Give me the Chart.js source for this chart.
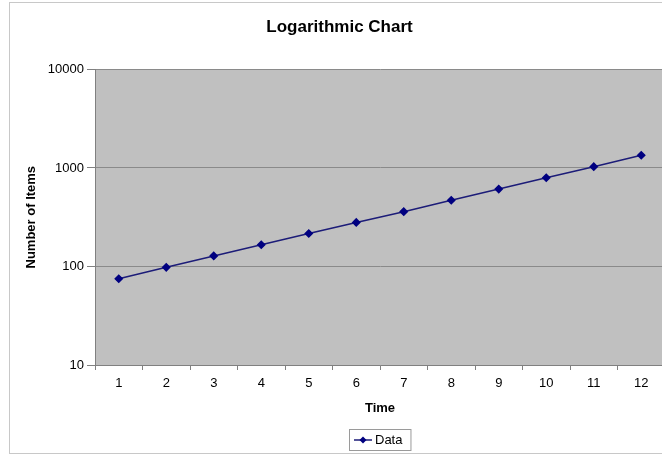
<!DOCTYPE html>
<html>
<head>
<meta charset="utf-8">
<script src="https://cdn.jsdelivr.net/npm/chart.js@4.4.1/dist/chart.umd.min.js"></script>
<style>
	html, body { margin: 0; padding: 0; background: #fff; overflow: hidden; }
	#wrap { position: relative; width: 684px; height: 455px; }
</style>
</head>
<body>
<div id="wrap"><canvas id="myChart"></canvas></div>
<script>
// values
var timeLabels = ['1', '2', '3', '4', '5', '6', '7', '8', '9', '10', '11', '12'];
var itemCounts = [75, 98, 128, 166, 216, 280, 360, 470, 610, 795, 1030, 1345];
var yTickValues = [10, 100, 1000, 10000];

var FONT = "'Liberation Sans', Arial, sans-serif";

// grey plot area + light frame round the whole chart
var backdrop = {
	id: 'backdrop',
	beforeDraw: function(chart) {
		var ctx = chart.ctx, a = chart.chartArea;
		ctx.save();
		ctx.strokeStyle = '#c8c8c8';
		ctx.lineWidth = 1;
		ctx.strokeRect(9.5, 2.5, chart.width - 3, 451);
		ctx.fillStyle = '#c0c0c0';
		ctx.fillRect(a.left, a.top, a.right - a.left, a.bottom - a.top);
		ctx.restore();
	}
};

// excel style legend: boxed, line with a diamond marker
var boxLegend = {
	id: 'boxLegend',
	afterDraw: function(chart) {
		var ctx = chart.ctx;
		var ds = chart.data.datasets[0];
		ctx.save();
		ctx.font = '13px ' + FONT;
		var tw = ctx.measureText(ds.label).width;
		var x0 = 349, y0 = 429, h = 21;
		var w = 26 + tw + 8;
		ctx.fillStyle = '#fff';
		ctx.fillRect(x0 + 0.5, y0 + 0.5, w, h);
		ctx.strokeStyle = '#9a9a9a';
		ctx.strokeRect(x0 + 0.5, y0 + 0.5, w, h);
		var cy = y0 + h / 2 + 0.5;
		ctx.strokeStyle = ds.borderColor;
		ctx.lineWidth = 1.5;
		ctx.beginPath();
		ctx.moveTo(x0 + 5, cy);
		ctx.lineTo(x0 + 23, cy);
		ctx.stroke();
		ctx.fillStyle = ds.pointBackgroundColor;
		ctx.beginPath();
		ctx.moveTo(x0 + 14, cy - 3.5);
		ctx.lineTo(x0 + 17.5, cy);
		ctx.lineTo(x0 + 14, cy + 3.5);
		ctx.lineTo(x0 + 10.5, cy);
		ctx.closePath();
		ctx.fill();
		ctx.fillStyle = '#000';
		ctx.textBaseline = 'middle';
		ctx.fillText(ds.label, x0 + 26, cy);
		ctx.restore();
	}
};

var ctx = document.getElementById('myChart').getContext('2d');
var chart = new Chart(ctx, {
	type: 'line',
	data: {
		labels: timeLabels,
		datasets: [{
			label: 'Data',
			data: itemCounts,
			borderColor: '#1c1c78',
			borderWidth: 1.5,
			pointStyle: 'rectRot',
			pointRadius: 3.5,
			pointBackgroundColor: '#000080',
			pointBorderColor: '#000080',
			tension: 0
		}]
	},
	options: {
		responsive: true,
		maintainAspectRatio: false,
		animation: false,
		layout: { padding: { left: 14, right: 19, top: 0, bottom: 0 } },
		plugins: {
			legend: { display: false },
			tooltip: { enabled: false },
			title: {
				display: true,
				text: 'Logarithmic Chart',
				color: '#000',
				font: { family: FONT, size: 17, weight: 'bold' },
				padding: { top: 17, bottom: 32 }
			}
		},
		scales: {
			x: {
				type: 'category',
				offset: true,
				afterFit: function(s) { s.height = 90; },
				grid: {
					drawOnChartArea: false,
					offset: true,
					tickLength: 5,
					color: '#808080'
				},
				border: { color: '#808080', width: 1 },
				ticks: {
					color: '#000',
					padding: 6,
					maxRotation: 0,
					font: { family: FONT, size: 13 }
				},
				title: {
					display: true,
					text: 'Time',
					color: '#000',
					font: { family: FONT, size: 13, weight: 'bold' },
					padding: { top: 0, bottom: 39 }
				}
			},
			y: {
				type: 'logarithmic',
				min: 10,
				max: 10000,
				afterFit: function(s) { s.width = 81; },
				afterBuildTicks: function(s) {
					s.ticks = yTickValues.map(function(v) { return { value: v }; });
				},
				grid: {
					color: '#8a8a8a',
					tickColor: '#808080',
					tickLength: 8
				},
				border: { color: '#808080', width: 1 },
				ticks: {
					color: '#000',
					padding: 3,
					font: { family: FONT, size: 13 },
					callback: function(v) { return String(v); }
				},
				title: {
					display: true,
					text: 'Number of Items',
					color: '#000',
					font: { family: FONT, size: 13, weight: 'bold' },
					padding: { top: 10, bottom: 0 }
				}
			}
		}
	},
	plugins: [backdrop, boxLegend]
});
</script>
</body>
</html>
